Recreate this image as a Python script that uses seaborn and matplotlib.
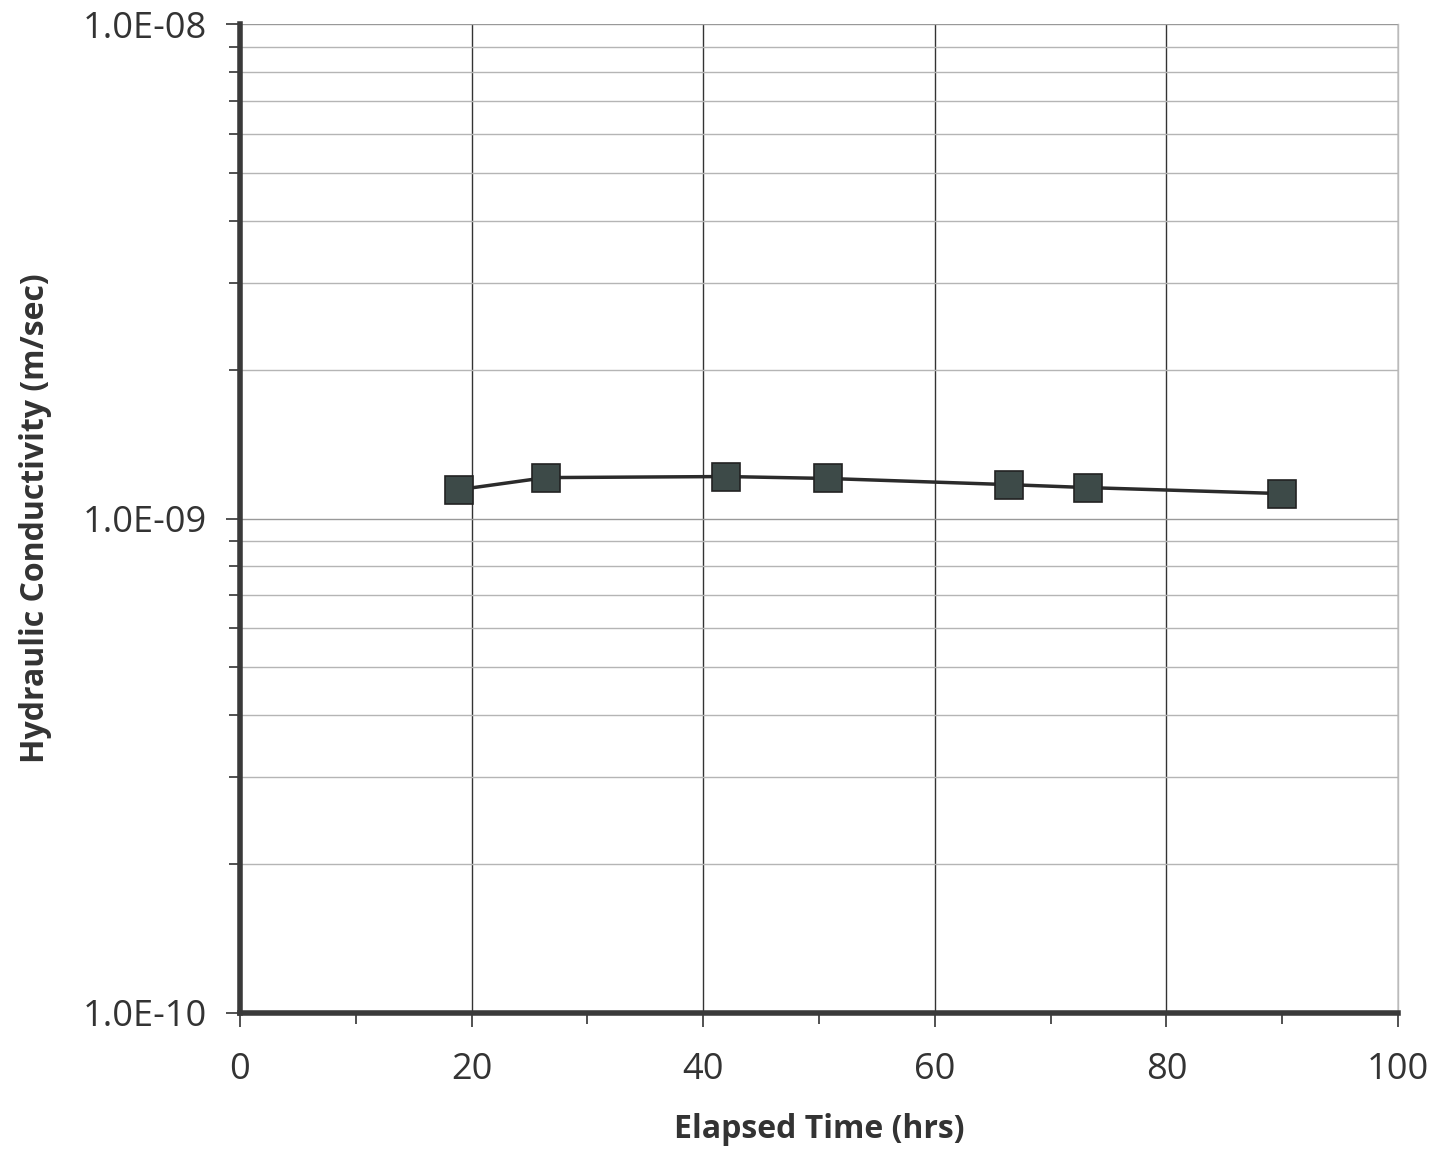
import seaborn as sns
import matplotlib.pyplot as plt
import matplotlib.ticker as mticker
import pandas as pd

elapsed_hrs = [18.9, 26.4, 42.0, 50.8, 66.4, 73.2, 90.0]
conductivity = [1.144e-9, 1.21e-9, 1.216e-9, 1.205e-9, 1.171e-9, 1.155e-9, 1.123e-9]
x_ticks = [0, 20, 40, 60, 80, 100]
y_ticks = [1e-10, 1e-9, 1e-8]
y_tick_labels = ['1.0E-10', '1.0E-09', '1.0E-08']

df = pd.DataFrame({'Elapsed Time (hrs)': elapsed_hrs, 'K': conductivity})

sns.set_style("white", {'xtick.bottom': True, 'ytick.left': True})
plt.rcParams['font.family'] = ['Open Sans', 'DejaVu Sans']

fig = plt.figure(figsize=(14.45, 11.51), dpi=100)
ax = fig.add_axes([0.166, 0.12, 0.8015, 0.859])

sns.lineplot(data=df, x='Elapsed Time (hrs)', y='K', ax=ax, color='#2b2b2b',
             linewidth=2.5, marker='s', markersize=20, markerfacecolor='#3d4a48',
             markeredgecolor='#222222', markeredgewidth=1.2, zorder=5)

ax.set_yscale('log')
ax.set_xlim(0, 100)
ax.set_ylim(1e-10, 1e-8)
ax.set_xticks(x_ticks)
ax.set_xticks(range(10, 100, 20), minor=True)
ax.set_yticks(y_ticks)
ax.set_yticklabels(y_tick_labels)
ax.yaxis.set_minor_locator(mticker.LogLocator(base=10, subs=range(2, 10)))
ax.yaxis.set_minor_formatter(mticker.NullFormatter())

ax.grid(which='major', axis='x', color='#333333', linewidth=1.0)
ax.grid(which='major', axis='y', color='#999999', linewidth=1.0)
ax.grid(which='minor', axis='y', color='#b5b5b5', linewidth=1.0)
ax.grid(which='minor', axis='x', visible=False)

for side in ['left', 'bottom']:
    ax.spines[side].set_linewidth(4)
    ax.spines[side].set_color('#3a3a3a')
ax.spines['top'].set_visible(False)
ax.spines['right'].set_color('#bbbbbb')
ax.spines['right'].set_linewidth(1)

ax.tick_params(axis='both', which='major', direction='out', length=10, width=1.2,
               color='#333333', labelsize=26, labelcolor='#333333',
               bottom=True, left=True)
ax.tick_params(axis='both', which='minor', direction='out', length=8, width=1.2,
               color='#333333', bottom=True, left=True)
ax.tick_params(axis='x', pad=18)
ax.tick_params(axis='y', pad=14)

ax.set_xlabel('Elapsed Time (hrs)', fontsize=23, fontweight='bold', color='#333333', labelpad=18)
ax.set_ylabel('Hydraulic Conductivity (m/sec)', fontsize=23, fontweight='bold', color='#333333', labelpad=22)

plt.savefig('out.png', dpi=100)
